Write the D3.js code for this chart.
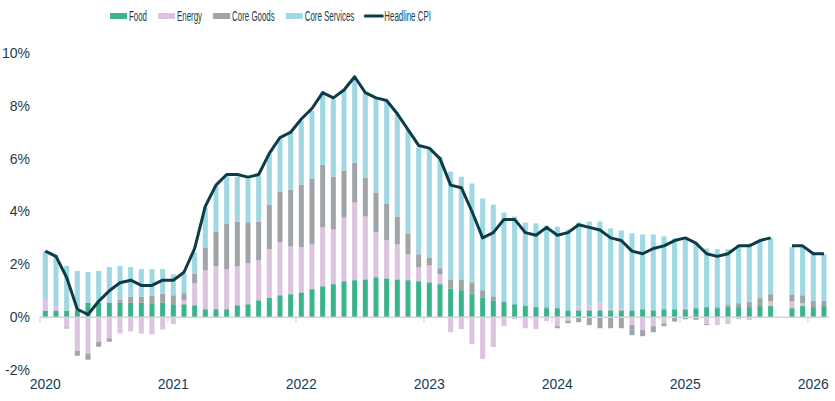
<!DOCTYPE html>
<html>
<head>
<meta charset="utf-8">
<script src="https://cdn.jsdelivr.net/npm/d3@7"></script>
<style>
  body { margin: 0; background: #fff; }
  svg text { font-family: "Liberation Sans Narrow", "Arial Narrow", "Liberation Sans", sans-serif; fill: #1b3d4b; }
</style>
</head>
<body>
<svg id="chart"></svg>
<script>
// months Jan 2020 .. Feb 2026 (Oct 2025 not published)
const months = d3.timeMonth.range(new Date(2020, 0, 1), new Date(2026, 2, 1));
const yearTicks = ["2020", "2021", "2022", "2023", "2024", "2025", "2026"];
const yTicks = [-2, 0, 2, 4, 6, 8, 10];

// contributions to headline CPI, % pts
const food = [
  0.25, 0.25, 0.25, 0.25, 0.54, 0.54, 0.54, 0.54, 0.54, 0.54, 0.50, 0.54,
  0.49, 0.49, 0.45, 0.30, 0.30, 0.30, 0.45, 0.49, 0.64, 0.73, 0.83, 0.87,
  0.94, 1.06, 1.17, 1.25, 1.36, 1.40, 1.43, 1.51, 1.47, 1.43, 1.40, 1.36,
  1.32, 1.25, 1.09, 1.02, 0.87, 0.75, 0.64, 0.57, 0.49, 0.42, 0.38, 0.34,
  0.34, 0.26, 0.26, 0.26, 0.26, 0.26, 0.26, 0.26, 0.30, 0.26, 0.30, 0.30,
  0.30, 0.34, 0.38, 0.34, 0.38, 0.38, 0.38, 0.42, 0.42, null, 0.34, 0.42,
  0.38, 0.42
];
const energy = [
  0.44, 0.21, -0.39, -1.27, -1.38, -0.93, -0.80, -0.62, -0.54, -0.62, -0.65, -0.47,
  -0.26, 0.15, 0.84, 1.47, 1.62, 1.51, 1.47, 1.55, 1.51, 1.84, 2.00, 1.81,
  1.70, 1.69, 2.23, 2.07, 2.41, 2.94, 2.38, 1.70, 1.44, 1.32, 0.98, 0.53,
  0.64, 0.37, -0.57, -0.45, -1.02, -1.58, -1.13, -0.34, -0.08, -0.42, -0.45, -0.15,
  -0.34, -0.14, 0.15, 0.18, 0.26, 0.08, 0.08, -0.30, -0.49, -0.34, -0.23, -0.02,
  0.08, -0.02, -0.26, -0.30, -0.26, -0.08, -0.11, -0.02, 0.19, null, 0.26, 0.11,
  -0.04, 0.00
];
const coreGoods = [
  -0.04, 0.00, -0.04, -0.19, -0.23, -0.19, -0.13, 0.11, 0.23, 0.23, 0.30, 0.34,
  0.34, 0.27, 0.36, 0.87, 1.32, 1.74, 1.70, 1.55, 1.47, 1.69, 1.92, 2.15,
  2.38, 2.50, 2.37, 2.00, 1.78, 1.51, 1.47, 1.51, 1.39, 1.06, 0.79, 0.49,
  0.30, 0.23, 0.34, 0.41, 0.45, 0.27, 0.15, 0.03, 0.00, 0.03, 0.00, 0.04,
  -0.08, -0.09, -0.19, -0.30, -0.42, -0.42, -0.42, -0.38, -0.23, -0.23, -0.11, -0.15,
  -0.08, -0.08, -0.04, 0.04, 0.08, 0.15, 0.19, 0.30, 0.26, null, 0.26, 0.30,
  0.23, 0.19
];
const coreServices = [
  1.81, 1.89, 1.69, 1.50, 1.17, 1.21, 1.36, 1.29, 1.13, 1.05, 1.02, 0.94,
  0.79, 0.75, 0.81, 1.51, 1.74, 1.81, 1.70, 1.65, 1.74, 1.92, 1.99, 2.22,
  2.41, 2.56, 2.73, 2.93, 3.02, 3.15, 3.20, 3.53, 3.86, 3.88, 3.91, 4.05,
  4.10, 4.23, 4.08, 3.89, 3.74, 3.47, 3.47, 3.36, 3.32, 3.13, 3.17, 3.09,
  3.09, 3.06, 3.17, 3.18, 3.10, 3.02, 2.94, 2.91, 2.83, 2.87, 2.76, 2.68,
  2.60, 2.48, 2.22, 2.19, 2.11, 2.19, 2.21, 2.18, 2.13, null, 1.79, 1.82,
  1.77, 1.77
];
const headline = [
  2.5, 2.3, 1.5, 0.3, 0.1, 0.6, 1.0, 1.3, 1.4, 1.2, 1.2, 1.4,
  1.4, 1.7, 2.6, 4.2, 5.0, 5.4, 5.4, 5.3, 5.4, 6.2, 6.8, 7.0,
  7.5, 7.9, 8.5, 8.3, 8.6, 9.1, 8.5, 8.3, 8.2, 7.7, 7.1, 6.5,
  6.4, 6.0, 5.0, 4.9, 4.0, 3.0, 3.2, 3.7, 3.7, 3.2, 3.1, 3.4,
  3.1, 3.2, 3.5, 3.4, 3.3, 3.0, 2.9, 2.5, 2.4, 2.6, 2.7, 2.9,
  3.0, 2.8, 2.4, 2.3, 2.4, 2.7, 2.7, 2.9, 3.0, null, 2.7, 2.7,
  2.4, 2.4
];

const series = [
  { key: "food", name: "Food", values: food, color: "#3bb38c" },
  { key: "energy", name: "Energy", values: energy, color: "#dcc3df" },
  { key: "goods", name: "Core Goods", values: coreGoods, color: "#a0a4a6" },
  { key: "services", name: "Core Services", values: coreServices, color: "#9dd8e3" }
];
const lineColor = "#0c3c48";

const width = 835, height = 401;
const svg = d3.select("#chart").attr("width", width).attr("height", height);

const rows = months.map((m, i) => {
  const r = { date: m, i: i, missing: headline[i] === null, cpi: headline[i] };
  series.forEach(s => r[s.key] = s.values[i] === null ? 0 : s.values[i]);
  return r;
});

const xScale = d3.scaleBand()
  .domain(rows.map(d => d.i))
  .range([40, 829.3])
  .paddingInner(0.53)
  .paddingOuter(0.265);
const yScale = d3.scaleLinear().domain([-2, 10]).range([370, 53]);

const stacked = d3.stack()
  .keys(series.map(s => s.key))
  .offset(d3.stackOffsetDiverging)(rows);

// bars
svg.append("g")
  .selectAll("g")
  .data(stacked)
  .join("g")
  .attr("fill", (d, i) => series[i].color)
  .selectAll("rect")
  .data(d => d.filter(p => !p.data.missing))
  .join("rect")
  .attr("x", d => xScale(d.data.i))
  .attr("width", xScale.bandwidth())
  .attr("y", d => yScale(Math.max(d[0], d[1])))
  .attr("height", d => Math.abs(yScale(d[0]) - yScale(d[1])));

// x axis line at zero + year ticks
const jan = rows.filter(d => d.date.getMonth() === 0);
const xAxis = svg.append("g").attr("transform", `translate(0,${yScale(0)})`);
xAxis.append("line")
  .attr("x1", 40).attr("x2", 829.3)
  .attr("stroke", "#d4d4d4").attr("stroke-width", 1.5);
xAxis.selectAll("line.tick")
  .data(jan)
  .join("line")
  .attr("class", "tick")
  .attr("x1", d => xScale(d.i) - xScale.step() * 0.265)
  .attr("x2", d => xScale(d.i) - xScale.step() * 0.265)
  .attr("y1", 0).attr("y2", 5)
  .attr("stroke", "#d4d4d4").attr("stroke-width", 1.2);

svg.append("g")
  .selectAll("text")
  .data(jan)
  .join("text")
  .attr("x", d => xScale(d.i) + xScale.bandwidth() / 2)
  .attr("y", 389)
  .attr("text-anchor", "middle")
  .style("font-size", "14px")
  .text((d, i) => yearTicks[i]);

// y axis labels
const yAxis = svg.append("g")
  .attr("transform", "translate(40,0)")
  .call(d3.axisLeft(yScale).tickValues(yTicks).tickSize(0).tickPadding(10).tickFormat(d => d + "%"));
yAxis.select(".domain").remove();
yAxis.selectAll("text")
  .style("font-size", "14px")
  .style("font-family", "\"Liberation Sans Narrow\", \"Arial Narrow\", sans-serif")
  .attr("fill", "#1b3d4b");

// headline line
const line = d3.line()
  .defined(d => d.cpi !== null)
  .x(d => xScale(d.i) + xScale.bandwidth() / 2)
  .y(d => yScale(d.cpi));
svg.append("path")
  .datum(rows)
  .attr("fill", "none")
  .attr("stroke", lineColor)
  .attr("stroke-width", 3)
  .attr("stroke-linejoin", "round")
  .attr("d", line);

// legend (condensed font look)
const squeeze = 0.565;
const legend = svg.append("g").attr("transform", "translate(110,16)");
let lx = 0;
const items = series.map(s => ({ name: s.name, color: s.color, type: "rect" }))
  .concat([{ name: "Headline CPI", color: lineColor, type: "line" }]);
items.forEach(it => {
  const g = legend.append("g").attr("transform", `translate(${lx},0)`);
  if (it.type === "rect") {
    g.append("rect").attr("x", 0).attr("y", -3).attr("width", 17).attr("height", 6).attr("fill", it.color);
  } else {
    g.append("line").attr("x1", 0).attr("x2", 17).attr("y1", 0).attr("y2", 0)
      .attr("stroke", it.color).attr("stroke-width", 3).attr("stroke-linecap", "round");
  }
  const t = g.append("text")
    .attr("transform", `translate(19,5) scale(${squeeze},1)`)
    .style("font-size", "14px")
    .text(it.name);
  lx += 19 + t.node().getComputedTextLength() * squeeze + 11;
});
</script>
</body>
</html>
